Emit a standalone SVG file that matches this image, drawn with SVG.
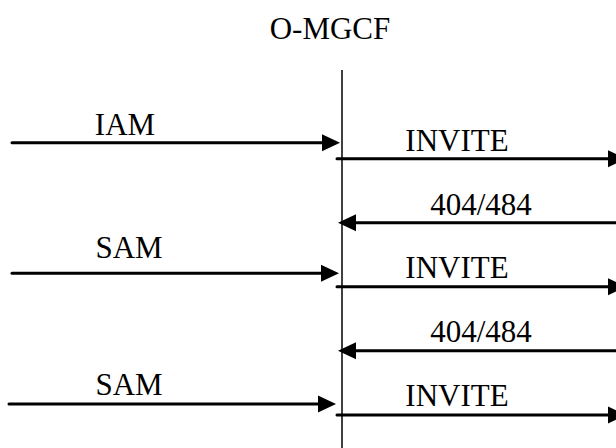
<svg xmlns="http://www.w3.org/2000/svg" width="616" height="448" viewBox="0 0 616 448">
<style>
text{font-family:"Liberation Serif","Times New Roman",serif;font-size:31px;fill:#000;text-anchor:middle}
.msg{stroke:#000;stroke-width:3;fill:none;stroke-linecap:round;marker-end:url(#ah)}
.life{stroke:#000;stroke-width:1.5;fill:none}
</style>
<defs>
<marker id="ah" markerUnits="userSpaceOnUse" markerWidth="18" markerHeight="17" refX="0" refY="8.5" orient="auto" overflow="visible">
<path d="M0,0 L18,8.5 L0,17 Z" fill="#000"/>
</marker>
</defs>
<g id="o-mgcf">
<text x="330" y="39">O-MGCF</text>
<line class="life" x1="342" y1="70" x2="342" y2="448"/>
</g>
<g id="connectors">
<g id="iam"><line class="msg" x1="12" y1="142.7" x2="322" y2="142.7"/><text x="125" y="135">IAM</text></g>
<g id="invite1"><line class="msg" x1="337" y1="158.7" x2="608" y2="158.7"/><text x="457" y="151">INVITE</text></g>
<g id="r404a"><line class="msg" x1="616" y1="222.7" x2="356" y2="222.7"/><text x="481" y="215">404/484</text></g>
<g id="sam1"><line class="msg" x1="12" y1="273.3" x2="321" y2="273.3"/><text x="129" y="258">SAM</text></g>
<g id="invite2"><line class="msg" x1="337" y1="286.7" x2="608" y2="286.7"/><text x="457" y="278">INVITE</text></g>
<g id="r404b"><line class="msg" x1="616" y1="350.7" x2="356" y2="350.7"/><text x="481" y="342">404/484</text></g>
<g id="sam2"><line class="msg" x1="9" y1="404" x2="318" y2="404"/><text x="129" y="395">SAM</text></g>
<g id="invite3"><line class="msg" x1="337" y1="415" x2="608" y2="415"/><text x="457" y="406">INVITE</text></g>
</g>
</svg>
